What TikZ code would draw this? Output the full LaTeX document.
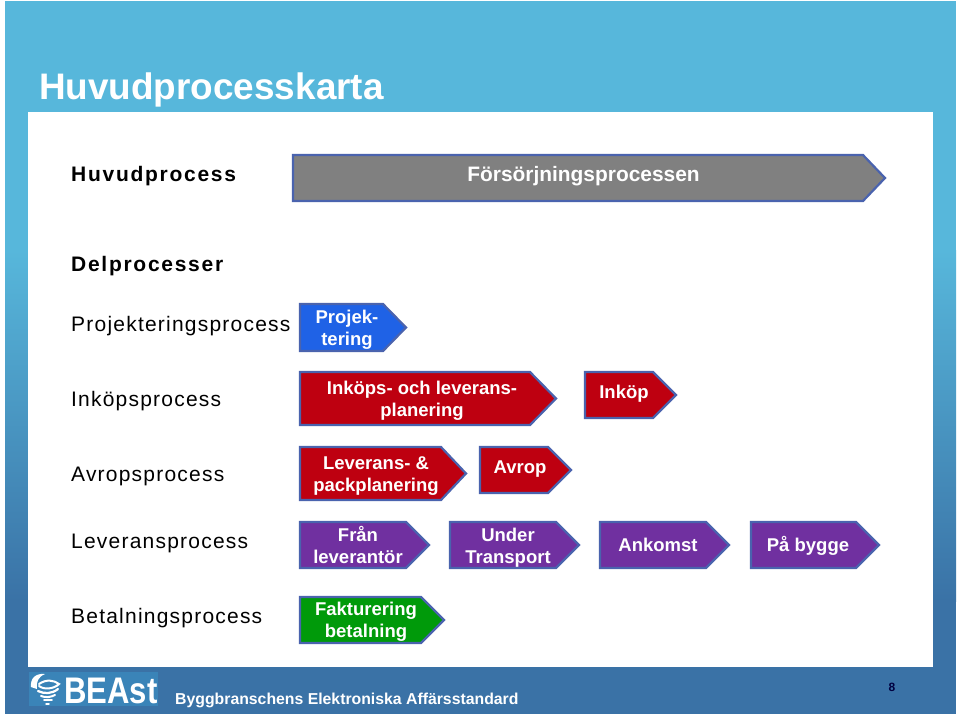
\documentclass[tikz,border=0pt]{standalone}
\usepackage{fontspec}
\setmainfont{Liberation Sans}
\newfontfamily\spacedfont[LetterSpace=5.8]{Liberation Sans}
\newfontfamily\wideboldfont[LetterSpace=8.2]{Liberation Sans}
\usetikzlibrary{positioning}
\definecolor{skytop}{HTML}{57B7DB}
\definecolor{skylow}{HTML}{3A72A6}
\definecolor{logoblue}{HTML}{3A84B8}
\definecolor{edgeblue}{HTML}{4A63AE}
\definecolor{projblue}{HTML}{1F62E6}
\definecolor{planred}{HTML}{BE0010}
\definecolor{delpurple}{HTML}{7030A0}
\definecolor{payreen}{HTML}{009A0A}
\definecolor{maingray}{HTML}{808080}
\tikzset{
  rowlabel/.style={anchor=base west,inner sep=0pt,font=\fontsize{21}{24}\selectfont\spacedfont},
  boldlabel/.style={rowlabel,font=\fontsize{21}{24}\selectfont\wideboldfont\bfseries},
  proctext/.style={white,align=center,inner sep=0pt,font=\fontsize{18.5}{22}\selectfont\bfseries},
  procedge/.style={edgeblue,line width=2.2pt,line join=miter},
  logostripe/.style={white,line cap=round}
}
\begin{document}
\begin{tikzpicture}[x=1pt,y=-1pt]
\useasboundingbox (0,0) rectangle (960,716);
% background
\fill[skytop] (5,1) rectangle (956,251);
\shade[top color=skytop,bottom color=skylow] (5,250) rectangle (956,601);
\fill[skylow] (5,600) rectangle (956,714);
\fill[white] (28,112) rectangle (933,667);
\node[anchor=base west,inner sep=0pt,white,font=\fontsize{36.9}{40}\selectfont\bfseries] (title) at (39,99) {Huvudprocesskarta};

% labels on the left
\node[boldlabel] (huvud) at (71,181) {Huvudprocess};
\node[boldlabel] (delproc) at (71,271) {Delprocesser};
\node[rowlabel] (projproc) at (71,331) {Projekteringsprocess};
\node[rowlabel] (inkproc) at (71,406) {Inköpsprocess};
\node[rowlabel] (avrproc) at (71,481) {Avropsprocess};
\node[rowlabel] (levproc) at (71,548) {Leveransprocess};
\node[rowlabel] (betproc) at (71,623) {Betalningsprocess};

% main process
\filldraw[procedge,fill=maingray] (293,155) -- (863,155) -- (885,178) -- (863,201) -- (293,201) -- cycle;
\node[proctext,anchor=base,font=\fontsize{20.9}{24}\selectfont\bfseries] (forsorj) at (583.5,181) {Försörjningsprocessen};

% projektering and inkop
\filldraw[procedge,fill=projblue] (300,304) -- (383,304) -- (406,327.5) -- (383,351) -- (300,351) -- cycle;
\node[proctext] (projekt) at (347,329.5) {Projek-\\tering};
\filldraw[procedge,fill=planred] (300,372) -- (530,372) -- (556,398.5) -- (530,425) -- (300,425) -- cycle;
\node[proctext] (inkplan) at (422,401) {Inköps- och leverans-\\planering};
\filldraw[procedge,fill=planred] (585,372) -- (653,372) -- (676,395) -- (653,418) -- (585,418) -- cycle;
\node[proctext] (inkop) at (624,393.5) {Inköp};

% avrop
\filldraw[procedge,fill=planred] (300,447) -- (441,447) -- (466,473.5) -- (441,500) -- (300,500) -- cycle;
\node[proctext] (levplan) at (376,476.5) {Leverans- \&\\packplanering};
\filldraw[procedge,fill=planred] (480,447) -- (548,447) -- (571,470) -- (548,493) -- (480,493) -- cycle;
\node[proctext] (avrop) at (520,469) {Avrop};

% leverans
\filldraw[procedge,fill=delpurple] (300,522) -- (406,522) -- (429,545) -- (406,568) -- (300,568) -- cycle;
\node[proctext] (fran) at (358,545) {Från\\leverantör};
\filldraw[procedge,fill=delpurple] (450,522) -- (556,522) -- (579,545) -- (556,568) -- (450,568) -- cycle;
\node[proctext] (under) at (508,547.5) {Under\\Transport};
\filldraw[procedge,fill=delpurple] (600,522) -- (706,522) -- (729,545) -- (706,568) -- (600,568) -- cycle;
\node[proctext] (ankomst) at (658,545) {Ankomst};
\filldraw[procedge,fill=delpurple] (751,522) -- (856,522) -- (879,545) -- (856,568) -- (751,568) -- cycle;
\node[proctext] (bygge) at (808,545.5) {På bygge};

% betalning
\filldraw[procedge,fill=payreen] (300,597) -- (421,597) -- (444,620) -- (421,643) -- (300,643) -- cycle;
\node[proctext] (faktura) at (366,622) {Fakturering\\betalning};

% footer
\fill[logoblue] (29,672) rectangle (158,706);
\node[anchor=base west,inner sep=0pt,white,xscale=0.84,font=\fontsize{37}{40}\selectfont\bfseries] (beast) at (64,703) {BEAst};
\fill[white] (31,687) .. controls (30,678) and (36,673) .. (45,674) .. controls (38,677) and (36,682) .. (37,689) -- cycle;
\draw[logostripe,line width=2pt] (39,684) .. controls (46,679) and (54,680) .. (59,684) .. controls (54,689) and (44,690) .. (39,686);
\draw[logostripe,line width=2.2pt] (38,691) .. controls (44,694) and (52,694) .. (58,689);
\draw[logostripe,line width=2pt] (41,696) .. controls (46,698) and (51,697) .. (55,695);
\draw[logostripe,line width=1.8pt] (44,700) -- (52,700);
\draw[logostripe,line width=1.5pt] (46,704) -- (49,704);
\node[anchor=base west,inner sep=0pt,white,font=\fontsize{15.8}{18}\selectfont\bfseries] (bygg) at (175,704) {Byggbranschens Elektroniska Affärsstandard};
\node[inner sep=0pt,black!75!blue,font=\fontsize{12}{14}\selectfont\bfseries] (pagenr) at (892,687) {8};
\end{tikzpicture}
\end{document}
